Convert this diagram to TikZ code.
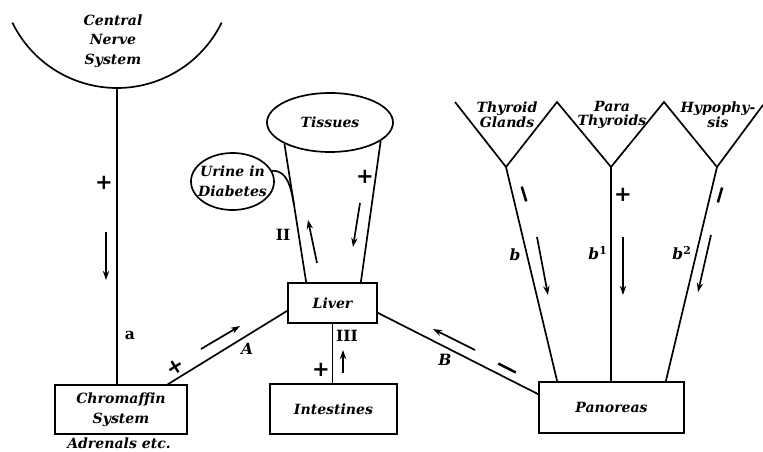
\documentclass[tikz,border=0pt]{standalone}
\usepackage{fontspec}
\setmainfont{DejaVu Serif}
\newfontfamily\signfont{DejaVu Sans}
\usetikzlibrary{positioning,arrows.meta,shapes.geometric,calc}
\newcommand\organfont{\fontsize{10}{14}\selectfont\bfseries\itshape}
\newcommand\glandfont{\fontsize{10}{10.5}\selectfont\bfseries\itshape}

\begin{document}
\begin{tikzpicture}[x=0.025cm,y=-0.025cm,
    box/.style={draw,line width=1.2pt,align=center,font=\organfont,inner sep=1pt},
    blob/.style={draw,ellipse,line width=1.2pt,align=center,font=\organfont,inner sep=-8pt},
    link/.style={line width=1.2pt},
    flow/.style={-{Stealth[length=6.5pt,width=4.5pt]},line width=1.2pt},
    lbl/.style={font=\fontsize{11}{13}\selectfont\bfseries,inner sep=1pt},
    ilbl/.style={font=\fontsize{11}{13}\selectfont\bfseries\itshape,inner sep=1pt},
    plus/.style={font=\signfont\fontsize{15}{15}\selectfont\bfseries,inner sep=0pt},
    minus/.style={inner sep=0pt}]
  \useasboundingbox (0,0) rectangle (763,452);

  % central nerve system
  \coordinate (cns) at (117,88);
  \draw[link] (cns) arc[start angle=270,end angle=206,radius=2.91cm];
  \draw[link] (cns) arc[start angle=270,end angle=334,radius=2.91cm];
  \node[font=\organfont,align=center] (cnstxt) at (113,41) {Central\\Nerve\\System};

  % organs
  \node[box,minimum width=3.3cm,minimum height=1.22cm] (chrom) at (121,409.5) {Chromaffin\\System};
  \node[font=\organfont,inner sep=0pt] (adren) at (119,443) {Adrenals etc.};
  \node[box,minimum width=2.225cm,minimum height=1cm] (liver) at (332.5,303) {Liver};
  \node[box,minimum width=3.175cm,minimum height=1.25cm] (intest) at (333.5,409) {Intestines};
  \node[box,minimum width=3.625cm,minimum height=1.275cm] (panc) at (611.5,407.5) {Panoreas};
  \node[blob,minimum width=3.15cm,minimum height=1.475cm] (tissues) at (330,122.5) {Tissues};
  \node[blob,minimum width=2.075cm,minimum height=1.425cm] (urine) at (232.5,181.5) {Urine in\\Diabetes};

  % ductless glands
  \coordinate (thy) at (506,167);
  \coordinate (para) at (611,167);
  \coordinate (hyp) at (717,167);
  \draw[link] (455,102) -- (thy) -- (557,102) -- (para) -- (664,102) -- (hyp) -- (763,105);
  \node[font=\glandfont,align=center] (thytxt) at (507,115) {Thyroid\\Glands};
  \node[font=\glandfont,align=center] (paratxt) at (612,115) {Para\\Thyroids};
  \node[font=\glandfont,align=center] (hyptxt) at (718,115) {Hypophy-\\sis};

  % connections
  \draw[link] (cns) -- (cns |- chrom.north);
  \draw[link] ($(chrom.north east)+(-20,0)$) -- ($(liver.south west)+(0,-13)$);
  \draw[link] ($(liver.south east)+(0,-11)$) -- ($(panc.north west)+(0,13)$);
  \draw[link] (liver.south) -- (liver.south |- intest.north);
  \coordinate (fl) at ($(liver.north west)+(19,0)$);
  \coordinate (fr) at ($(liver.north east)+(-17,0)$);
  \draw[link] (tissues.205) -- (fl);
  \draw[link] (tissues.340) -- (fr);
  \coordinate (join) at ($(tissues.205)!0.44!(fl)$);
  \draw[link] (urine.15) to[out=5,in=100] (join);
  \draw[link] (thy) -- ($(panc.north west)+(19,0)$);
  \draw[link] (para) -- (para |- panc.north);
  \draw[link] (hyp) -- ($(panc.north east)+(-19,0)$);

  % signs
  \node[plus] (pa) at (104,183) {+};
  \node[plus,rotate=32] (pA) at (175,367) {+};
  \node[plus] (pt) at (365,177) {+};
  \node[plus] (pi) at (321,370) {+};
  \node[plus] (pp) at (623,195) {+};
  \node[minus,rotate=-73] (mt) at (524,194) {\rule{11pt}{1.8pt}};
  \node[minus,rotate=74] (mh) at (720,195) {\rule{11pt}{1.8pt}};
  \node[minus,rotate=-27] (mB) at (507,368) {\rule{14pt}{1.8pt}};

  % flow arrows
  \draw[flow] (106,232) -- (106,280);
  \draw[flow] (201,349) -- (240,326);
  \draw[flow] (343,373) -- (343,350);
  \draw[flow] (317,263) -- (308,220);
  \draw[flow] (360,203) -- (353,247);
  \draw[flow] (475,350) -- (433,329);
  \draw[flow] (537,237) -- (548,295);
  \draw[flow] (623,237) -- (623,295);
  \draw[flow] (711,235) -- (698,292);

  % labels
  \node[lbl] (la) at (130,335) {a};
  \node[ilbl] (lA) at (247,349) {A};
  \node[ilbl] (lB) at (445,360) {B};
  \node[lbl] (lII) at (283,235) {II};
  \node[lbl] (lIII) at (347,336) {III};
  \node[ilbl] (lb) at (515,255) {b};
  \node[ilbl] (lb1) at (598,253) {b\textsuperscript{\upshape 1}};
  \node[ilbl] (lb2) at (682,253) {b\textsuperscript{\upshape 2}};
\end{tikzpicture}
\end{document}
